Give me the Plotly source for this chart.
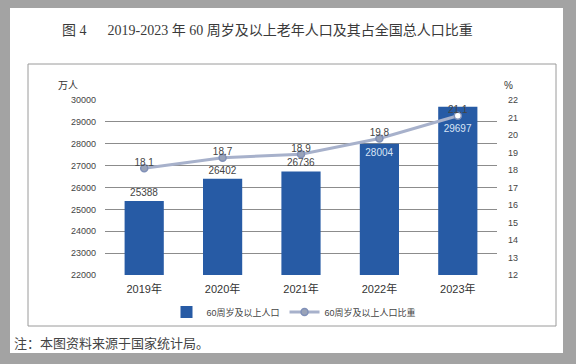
import plotly.graph_objects as go

years = ["2019年", "2020年", "2021年", "2022年", "2023年"]
population = [25388, 26402, 26736, 28004, 29697]
share = [18.1, 18.7, 18.9, 19.8, 21.1]
left_ticks = [22000, 23000, 24000, 25000, 26000, 27000, 28000, 29000, 30000]
right_ticks = [12, 13, 14, 15, 16, 17, 18, 19, 20, 21, 22]

# plot area in pixels: x 105..497, y 100..275
L, R, T, B = 105, 497, 100, 275
W, H = R - L, B - T


def px(x):
    return (x - L) / W


def py(y):
    return (B - y) / H


SANS = "Liberation Sans, Noto Sans CJK SC, sans-serif"
SERIF = "Liberation Serif, Noto Sans CJK SC, serif"

bar_text = [str(v) for v in population]
bar_text[-1] = "&nbsp;<br>" + bar_text[-1]

fig = go.Figure()

fig.add_trace(go.Bar(
    x=years, y=population, name="60周岁及以上人口",
    marker=dict(color="#275ba5", line=dict(width=0)),
    width=0.5,
    text=bar_text,
    textposition=["outside", "outside", "outside", "inside", "inside"],
    insidetextanchor="end",
    textfont=dict(family=SANS, size=10),
    outsidetextfont=dict(family=SANS, size=10, color="#444"),
    insidetextfont=dict(family=SANS, size=10, color="#d8e4f5"),
    cliponaxis=False,
))

fig.add_trace(go.Scatter(
    x=years, y=share, name="60周岁及以上人口比重", yaxis="y2",
    mode="lines+markers",
    line=dict(color="#a7b1cb", width=3),
    marker=dict(size=7, color=["#9aa3b8"] * 4 + ["#ffffff"],
                line=dict(color="#8090b8", width=1.5)),
))

fig.add_trace(go.Scatter(
    x=years, y=share, yaxis="y2", mode="text", showlegend=False,
    text=[f"{v:.1f}" for v in share], textposition="top center",
    textfont=dict(family=SANS, size=10, color="#444"),
    cliponaxis=False, hoverinfo="skip",
))

shapes = [
    dict(type="rect", xref="paper", yref="paper",
         x0=px(10), x1=px(563), y0=py(353), y1=py(8),
         fillcolor="white", line=dict(width=0), layer="below"),
    dict(type="rect", xref="paper", yref="paper",
         x0=px(28), x1=px(556), y0=py(326), y1=py(64),
         fillcolor="rgba(0,0,0,0)", line=dict(color="#9a9a9a", width=1), layer="below"),
]

annotations = [
    dict(text="图 4&nbsp;&nbsp;&nbsp;&nbsp;&nbsp;&nbsp;2019-2023 年 60 周岁及以上老年人口及其占全国总人口比重",
         xref="paper", yref="paper", x=px(60), y=py(30), xanchor="left", yanchor="middle",
         showarrow=False, font=dict(family=SERIF, size=14, color="#3a3a3a")),
    dict(text="万人", xref="paper", yref="paper", x=px(68), y=py(85),
         xanchor="center", yanchor="middle", showarrow=False,
         font=dict(family=SANS, size=10, color="#333")),
    dict(text="%", xref="paper", yref="paper", x=px(508), y=py(86),
         xanchor="center", yanchor="middle", showarrow=False,
         font=dict(family=SANS, size=10, color="#333")),
    dict(text="注：本图资料来源于国家统计局。", xref="paper", yref="paper",
         x=px(12), y=py(342), xanchor="left", yanchor="middle", showarrow=False,
         font=dict(family="Noto Sans CJK SC, sans-serif", size=13, color="#444")),
]

fig.update_layout(
    width=576, height=364,
    margin=dict(l=L, r=576 - R, t=T, b=364 - B, pad=0),
    paper_bgcolor="#a3a3a3",
    plot_bgcolor="rgba(0,0,0,0)",
    shapes=shapes,
    annotations=annotations,
    bargap=0.5,
    showlegend=True,
    legend=dict(orientation="h", x=px(294), xanchor="center", y=py(312), yanchor="middle",
                font=dict(family=SANS, size=9, color="#444"), bgcolor="rgba(0,0,0,0)",
                itemwidth=30, tracegroupgap=0),
    xaxis=dict(type="category", tickfont=dict(family=SANS, size=11, color="#333"),
               showgrid=False, showline=False, ticks="", ticklabelstandoff=6),
    yaxis=dict(range=[22000, 30000], tickvals=left_ticks, tickformat="d",
               tickfont=dict(family=SANS, size=9, color="#444"),
               showgrid=True, gridcolor="#8c8c8c", gridwidth=1,
               zeroline=False, showline=False, ticks="", ticklabelstandoff=8),
    yaxis2=dict(range=[12, 22], tickvals=right_ticks, overlaying="y", side="right",
                tickfont=dict(family=SANS, size=9, color="#444"),
                showgrid=False, zeroline=False, showline=False, ticks="", ticklabelstandoff=10),
)

fig.write_html("out.html", config={"displayModeBar": False},
               post_script="document.body.style.margin='0';document.body.style.overflow='hidden';")
